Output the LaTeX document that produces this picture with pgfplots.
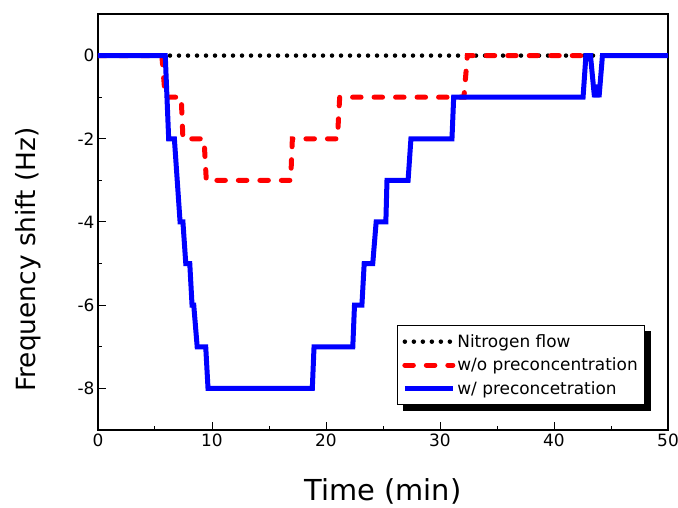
\documentclass[border=0pt]{standalone}
\usepackage{pgfplots}
\pgfplotsset{compat=1.18}
\usepackage{fontspec}
\setmainfont{DejaVu Sans}
\pgfdeclarelayer{background}
\pgfsetlayers{background,main}

\begin{document}
\begin{tikzpicture}
\useasboundingbox (-98bp,-78bp) rectangle (580bp,430bp);
\begin{axis}[
    at={(0,0)}, anchor=south west,
    width=570bp, height=416bp, scale only axis,
    xmin=0, xmax=50, ymin=-9, ymax=1,
    xtick={0,10,...,50}, minor xtick={5,15,...,45},
    ytick={-8,-6,-4,-2,0}, yticklabels={-8,-6,-4,-2,0},
    minor ytick={-7,-5,-3,-1},
    tick align=inside, xtick pos=bottom, ytick pos=left,
    major tick length=8bp, minor tick length=4bp,
    tick style={black, line width=1bp},
    axis line style={line width=1.2bp},
    ticklabel style={font=\fontsize{17}{20}\selectfont},
    /pgf/number format/assume math mode=true,
    xlabel={Time (min)},
    ylabel={Frequency shift (Hz)},
    xlabel style={font=\fontsize{29}{33}\selectfont,
        at={(axis description cs:0.5,0)}, anchor=base, yshift=-70bp},
    ylabel style={font=\fontsize{26.5}{30}\selectfont,
        at={(axis description cs:-0.11,0.41)}, anchor=base},
    legend cell align=left,
    legend image code/.code={\draw[#1] (0bp,0bp) -- (48bp,0bp);},
    legend style={name=leg, at={(0.96,0.06)}, anchor=south east, draw=black, line width=1bp,
        fill=white, font=\fontsize{17}{20}\selectfont,
        row sep=5bp, inner xsep=5bp, inner ysep=7bp},
]
\addplot[black, line width=4.5bp, line cap=round, dash pattern=on 0bp off 9bp] coordinates {
    (0,0) (50,0)
};
\addplot[red, line width=5bp, line cap=round, dash pattern=on 8.5bp off 13bp] coordinates {
    (0,0) (5.6,0) (5.9,-1) (7.3,-1) (7.45,-2) (9.3,-2) (9.5,-3) (16.9,-3)
    (17.05,-2) (21.0,-2) (21.2,-1) (32.1,-1) (32.4,0) (42.6,0)
};
\addplot[blue, line width=5bp, miter limit=1.5] coordinates {
    (0,0) (5.9,0) (6.2,-2) (6.7,-2) (7.2,-4) (7.45,-4) (7.7,-5) (8.05,-5)
    (8.25,-6) (8.4,-6) (8.7,-7) (9.45,-7) (9.65,-8) (18.8,-8) (18.95,-7)
    (22.35,-7) (22.5,-6) (23.15,-6) (23.35,-5) (24.1,-5) (24.4,-4) (25.25,-4)
    (25.35,-3) (27.2,-3) (27.45,-2) (31.05,-2) (31.2,-1) (42.55,-1) (42.8,0)
    (43.2,0) (43.55,-1) (43.75,-0.7) (43.95,-1) (44.25,0) (50,0)
};
\legend{Nitrogen flow, w/o preconcentration, w/ preconcetration}
\end{axis}
\begin{pgfonlayer}{background}
\fill[black] ([shift={(6bp,-6bp)}]leg.south west) rectangle ([shift={(6bp,-6bp)}]leg.north east);
\end{pgfonlayer}
\end{tikzpicture}
\end{document}
